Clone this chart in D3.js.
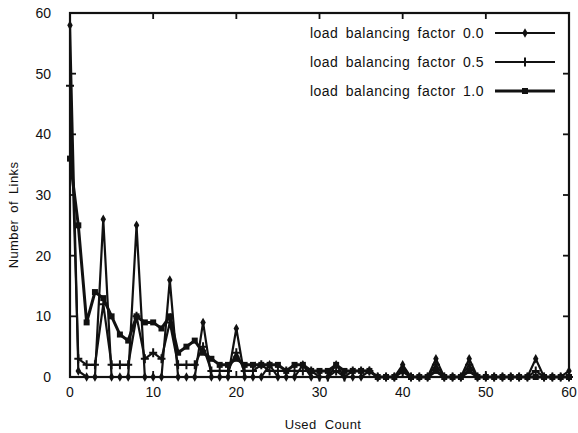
<!DOCTYPE html>
<html>
<head>
<meta charset="utf-8">
<script src="https://cdn.jsdelivr.net/npm/d3@7"></script>
<style>
  body { margin: 0; background: #fff; }
  text { font-family: "Liberation Sans", Arial, sans-serif; fill: #111; }
</style>
</head>
<body>
<div id="wrapper"></div>
<script>
// used count 0..60
const usedCount = d3.range(0, 61);

const seriesNames = [
    "load balancing factor 0.0",
    "load balancing factor 0.5",
    "load balancing factor 1.0",
];

// number of links per used count
const factor00 = [
    58, 1, 0, 0, 26, 0, 0, 0, 25, 0,
    0, 0, 16, 0, 0, 0, 9, 0, 0, 0,
    8, 0, 0, 0, 2, 0, 0, 0, 2, 0,
    0, 0, 2, 0, 0, 0, 1, 0, 0, 0,
    2, 0, 0, 0, 3, 0, 0, 0, 3, 0,
    0, 0, 0, 0, 0, 0, 3, 0, 0, 0,
    1,
];
const factor05 = [
    48, 3, 2, 2, 12, 2, 2, 2, 10, 3,
    4, 3, 9, 2, 2, 2, 5, 1, 1, 1,
    4, 1, 1, 2, 1, 1, 1, 1, 1, 1,
    0, 0, 1, 0, 1, 1, 1, 0, 0, 0,
    1, 0, 0, 0, 2, 0, 0, 0, 2, 0,
    0, 0, 0, 0, 0, 0, 1, 0, 0, 0,
    0,
];
const factor10 = [
    36, 25, 9, 14, 13, 10, 7, 6, 10, 9,
    9, 8, 10, 4, 5, 6, 4, 3, 2, 2,
    3, 2, 2, 2, 2, 2, 1, 2, 2, 1,
    1, 1, 2, 1, 1, 1, 1, 0, 0, 0,
    1, 0, 0, 0, 1, 0, 0, 0, 1, 0,
    0, 0, 0, 0, 0, 0, 0, 0, 0, 0,
    0,
];

const xTicks = [0, 10, 20, 30, 40, 50, 60];
const yTicks = [0, 10, 20, 30, 40, 50, 60];

const FONT_SIZE = "14px";
const TICK_LEN = 6;

function drawChart() {
    const dimensions = {
        width: 578,
        height: 433,
        margin: { top: 13, right: 9, bottom: 56, left: 70 },
    };
    dimensions.boundedWidth = dimensions.width - dimensions.margin.left - dimensions.margin.right;
    dimensions.boundedHeight = dimensions.height - dimensions.margin.top - dimensions.margin.bottom;

    const wrapper = d3.select("#wrapper")
        .append("svg")
        .attr("width", dimensions.width)
        .attr("height", dimensions.height);

    const bounds = wrapper.append("g")
        .attr("transform", `translate(${dimensions.margin.left},${dimensions.margin.top})`);

    const xScale = d3.scaleLinear()
        .domain([0, 60])
        .range([0, dimensions.boundedWidth]);

    const yScale = d3.scaleLinear()
        .domain([0, 60])
        .range([dimensions.boundedHeight, 0]);

    // frame
    bounds.append("rect")
        .attr("width", dimensions.boundedWidth)
        .attr("height", dimensions.boundedHeight)
        .attr("fill", "none")
        .attr("stroke", "#111")
        .attr("stroke-width", 2.2);

    // ticks pointing inward on all four sides
    const tickGroup = bounds.append("g").attr("stroke", "#111").attr("stroke-width", 1.8);
    xTicks.forEach(t => {
        tickGroup.append("line")
            .attr("x1", xScale(t)).attr("x2", xScale(t))
            .attr("y1", dimensions.boundedHeight).attr("y2", dimensions.boundedHeight - TICK_LEN);
        tickGroup.append("line")
            .attr("x1", xScale(t)).attr("x2", xScale(t))
            .attr("y1", 0).attr("y2", TICK_LEN);
    });
    yTicks.forEach(t => {
        tickGroup.append("line")
            .attr("x1", 0).attr("x2", TICK_LEN)
            .attr("y1", yScale(t)).attr("y2", yScale(t));
        tickGroup.append("line")
            .attr("x1", dimensions.boundedWidth).attr("x2", dimensions.boundedWidth - TICK_LEN)
            .attr("y1", yScale(t)).attr("y2", yScale(t));
    });

    // tick labels
    bounds.append("g").selectAll("text")
        .data(xTicks)
        .enter().append("text")
        .attr("x", d => xScale(d))
        .attr("y", dimensions.boundedHeight + 20)
        .style("text-anchor", "middle")
        .style("font-size", FONT_SIZE)
        .text(d => d);

    bounds.append("g").selectAll("text")
        .data(yTicks)
        .enter().append("text")
        .attr("x", -19)
        .attr("y", d => yScale(d) + 5)
        .style("text-anchor", "end")
        .style("font-size", FONT_SIZE)
        .text(d => d);

    // axis titles
    wrapper.append("text")
        .attr("x", 323)
        .attr("y", 429)
        .style("text-anchor", "middle")
        .style("font-size", "13px")
        .style("word-spacing", "4px")
        .style("letter-spacing", "0.4px")
        .text("Used Count");

    wrapper.append("text")
        .attr("transform", "translate(18,215) rotate(-90)")
        .style("text-anchor", "middle")
        .style("font-size", "13px")
        .style("word-spacing", "3px")
        .style("letter-spacing", "0.4px")
        .text("Number of Links");

    const allSeries = [
        { name: seriesNames[0], values: factor00, width: 2.2, marker: "diamond" },
        { name: seriesNames[1], values: factor05, width: 2.2, marker: "plus" },
        { name: seriesNames[2], values: factor10, width: 3, marker: "square" },
    ];

    const lineGenerator = d3.line()
        .x((d, i) => xScale(usedCount[i]))
        .y(d => yScale(d));

    const drawMarker = (g, type, x, y) => {
        if (type === "plus") {
            g.append("path")
                .attr("d", `M${x - 4},${y}H${x + 4}M${x},${y - 4.5}V${y + 4.5}`)
                .attr("stroke", "#111")
                .attr("stroke-width", 2)
                .attr("fill", "none");
        } else {
            const sym = type === "diamond" ? d3.symbolDiamond : d3.symbolSquare;
            const size = type === "diamond" ? 26 : 36;
            g.append("path")
                .attr("d", d3.symbol().type(sym).size(size)())
                .attr("transform", `translate(${x},${y})`)
                .attr("fill", "#111");
        }
    };

    const plotGroup = bounds.append("g");
    allSeries.forEach(s => {
        plotGroup.append("path")
            .datum(s.values)
            .attr("d", lineGenerator)
            .attr("fill", "none")
            .attr("stroke", "#111")
            .attr("stroke-width", s.width)
            .attr("stroke-linejoin", "miter");
        const mg = plotGroup.append("g");
        s.values.forEach((v, i) => drawMarker(mg, s.marker, xScale(usedCount[i]), yScale(v)));
    });

    // legend
    const legendRows = [33, 62, 91];
    const legend = wrapper.append("g");
    allSeries.forEach((s, i) => {
        const y = legendRows[i];
        legend.append("text")
            .attr("x", 484)
            .attr("y", y + 5)
            .style("text-anchor", "end")
            .style("font-size", FONT_SIZE)
            .style("word-spacing", "3px")
            .style("letter-spacing", "0.5px")
            .text(s.name);
        legend.append("line")
            .attr("x1", 495).attr("x2", 555)
            .attr("y1", y).attr("y2", y)
            .attr("stroke", "#111")
            .attr("stroke-width", s.width);
        drawMarker(legend, s.marker, 525, y);
    });
}

drawChart();
</script>
</body>
</html>
